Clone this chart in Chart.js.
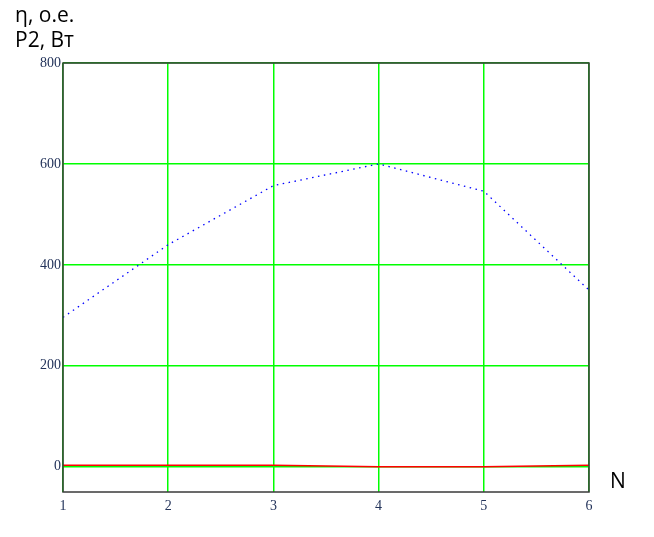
<!DOCTYPE html>
<html lang="ru">
<head>
    <meta charset="UTF-8">
    <title>η, P2 (N)</title>
    <script src="https://cdn.jsdelivr.net/npm/chart.js"></script>
    <style>
        html, body {
            margin: 0;
            padding: 0;
            background: #fff;
        }
        .wrap {
            position: relative;
            width: 654px;
            height: 537px;
        }
        #chart {
            position: absolute;
            left: 0;
            top: 0;
        }
        .lbl {
            position: absolute;
            font-family: "Open Sans", "Noto Sans", sans-serif;
            font-size: 21px;
            color: #000;
            line-height: 1;
            white-space: nowrap;
        }
    </style>
</head>
<body>
    <div class="wrap">
        <canvas id="chart" width="654" height="537"></canvas>
        <div class="lbl" style="left:15px; top:4px;">η, о.е.</div>
        <div class="lbl" style="left:15px; top:29px;">P2, Вт</div>
        <div class="lbl" style="left:610px; top:470px;">N</div>
    </div>

    <script>
        // данные
        const nValues = [1, 2, 3, 4, 5, 6];
        const p2Values = [296, 440, 557, 600, 546, 350];
        const etaValues = [3, 3, 3, 0, 0, 3];
        const yTicks = [0, 200, 400, 600, 800];
        const xTicks = [1, 2, 3, 4, 5, 6];

        // рамка вокруг области графика
        const frame = {
            id: 'frame',
            afterDraw(c) {
                const a = c.chartArea;
                const ctx = c.ctx;
                ctx.save();
                ctx.strokeStyle = '#3a3a3a';
                ctx.lineWidth = 1.5;
                ctx.strokeRect(a.left, a.top, a.right - a.left, a.bottom - a.top);
                ctx.restore();
            }
        };

        new Chart(document.getElementById('chart'), {
            type: 'line',
            data: {
                datasets: [
                    {
                        label: 'P2',
                        data: nValues.map((n, i) => ({ x: n, y: p2Values[i] })),
                        borderColor: '#0000ff',
                        borderWidth: 1.3,
                        borderDash: [1.5, 4.5],
                        pointRadius: 0,
                        tension: 0,
                        fill: false
                    },
                    {
                        label: 'η',
                        data: nValues.map((n, i) => ({ x: n, y: etaValues[i] })),
                        borderColor: '#ff0000',
                        borderWidth: 1.5,
                        pointRadius: 0,
                        tension: 0,
                        fill: false
                    }
                ]
            },
            options: {
                responsive: false,
                animation: false,
                layout: {
                    padding: { left: 0, top: 63, right: 65, bottom: 15 }
                },
                plugins: {
                    legend: { display: false },
                    tooltip: { enabled: false }
                },
                scales: {
                    x: {
                        type: 'linear',
                        min: 1,
                        max: 6,
                        afterBuildTicks: (axis) => {
                            axis.ticks = xTicks.map(v => ({ value: v }));
                        },
                        afterFit: (axis) => { axis.height = 30; },
                        border: { display: false },
                        grid: {
                            color: '#00ff00',
                            lineWidth: 1.5,
                            drawTicks: false
                        },
                        ticks: {
                            padding: 6,
                            maxRotation: 0,
                            color: '#23335a',
                            font: { family: 'Liberation Serif', size: 14 }
                        }
                    },
                    y: {
                        min: -50,
                        max: 800,
                        afterBuildTicks: (axis) => {
                            axis.ticks = yTicks.map(v => ({ value: v }));
                        },
                        afterFit: (axis) => { axis.width = 63; },
                        border: { display: false },
                        grid: {
                            color: '#00ff00',
                            lineWidth: 1.5,
                            drawTicks: false
                        },
                        ticks: {
                            padding: 2,
                            color: '#23335a',
                            font: { family: 'Liberation Serif', size: 14 }
                        }
                    }
                }
            },
            plugins: [frame]
        });
    </script>
</body>
</html>
